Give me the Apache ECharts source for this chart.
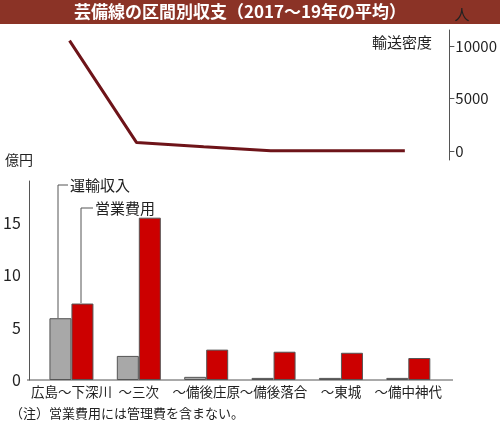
<!DOCTYPE html><html><head><meta charset="utf-8">
<script src="https://cdn.jsdelivr.net/npm/echarts@6/dist/echarts.min.js"></script>
<style>body{margin:0}#c{width:500px;height:428px}</style></head><body><div id="c"></div>
<script>
const categories=['広島〜下深川','〜三次','〜備後庄原','〜備後落合','〜東城','〜備中神代'];
const density=[10500,850,450,80,80,80];
const revenue=[5.9,2.3,0.3,0.2,0.2,0.2];
const expense=[7.3,15.5,2.9,2.7,2.6,2.1];
const densityTicks=[0,5000,10000];
const F='"Noto Sans CJK JP"';
const ch=echarts.init(document.getElementById('c'));
ch.setOption({
 animation:false,
 textStyle:{fontFamily:F},
 grid:[{left:36,right:58,top:30,height:130},{left:36,right:58,top:181,bottom:48}],
 xAxis:[
  {gridIndex:0,type:'category',data:categories,show:false},
  {gridIndex:1,type:'category',data:categories,axisLine:{show:false},axisTick:{show:false},
   axisLabel:{interval:0,color:'#222',fontSize:13.5,margin:5,fontFamily:F}}
 ],
 yAxis:[
  {gridIndex:0,type:'value',position:'right',offset:11,min:-800,max:11500,
   axisLine:{show:true,lineStyle:{color:'#555'}},splitLine:{show:false},
   axisTick:{show:true,inside:false,length:5,customValues:densityTicks,lineStyle:{color:'#555'}},
   axisLabel:{customValues:densityTicks,color:'#222',fontSize:15,margin:6,formatter:v=>String(v),fontFamily:'Liberation Sans Narrow, '+F}},
  {gridIndex:1,type:'value',min:0,max:19,interval:5,offset:9,
   axisLine:{show:true,lineStyle:{color:'#555'}},splitLine:{show:false},
   axisTick:{show:false},
   axisLabel:{color:'#222',fontSize:16,margin:8,fontFamily:'Liberation Sans Narrow, '+F,formatter:v=>v%5===0?String(v):''}}
 ],
 series:[
  {type:'line',xAxisIndex:0,yAxisIndex:0,data:density,symbol:'none',lineStyle:{color:'#6e1419',width:3}},
  {type:'bar',xAxisIndex:1,yAxisIndex:1,data:revenue,barWidth:22,barGap:'0%',itemStyle:{color:'#a8a8a8',borderColor:'#555',borderWidth:1}},
  {type:'bar',xAxisIndex:1,yAxisIndex:1,data:expense,barWidth:22,barGap:'0%',itemStyle:{color:'#cc0000',borderColor:'#555',borderWidth:1}}
 ],
 graphic:[
  {type:'rect',shape:{x:0,y:0,width:500,height:24},style:{fill:'#8b3326'}},
  {type:'text',x:240,y:12,style:{text:'芸備線の区間別収支（2017〜19年の平均）',fill:'#fff',font:'bold 17px '+F,align:'center',verticalAlign:'middle'}},
  {type:'text',x:462,y:14,style:{text:'人',fill:'#222',font:'15px '+F,align:'center',verticalAlign:'middle'}},
  {type:'text',x:432,y:42,style:{text:'輸送密度',fill:'#222',font:'15px '+F,align:'right',verticalAlign:'middle'}},
  {type:'text',x:5,y:160,style:{text:'億円',fill:'#222',font:'14px '+F,verticalAlign:'middle'}},
  {type:'line',shape:{x1:27,y1:380,x2:453,y2:380},style:{stroke:'#555',lineWidth:1}},
  {type:'polyline',shape:{points:[[58,318],[58,185],[68,185]]},style:{stroke:'#555',lineWidth:1,fill:null}},
  {type:'text',x:70,y:185,style:{text:'運輸収入',fill:'#222',font:'15px '+F,verticalAlign:'middle'}},
  {type:'polyline',shape:{points:[[81,303],[81,208],[93,208]]},style:{stroke:'#555',lineWidth:1,fill:null}},
  {type:'text',x:95,y:208,style:{text:'営業費用',fill:'#222',font:'15px '+F,verticalAlign:'middle'}},
  {type:'text',x:10,y:413,style:{text:'（注）営業費用には管理費を含まない。',fill:'#222',font:'13px '+F,verticalAlign:'middle'}}
 ]
});
</script></body></html>
